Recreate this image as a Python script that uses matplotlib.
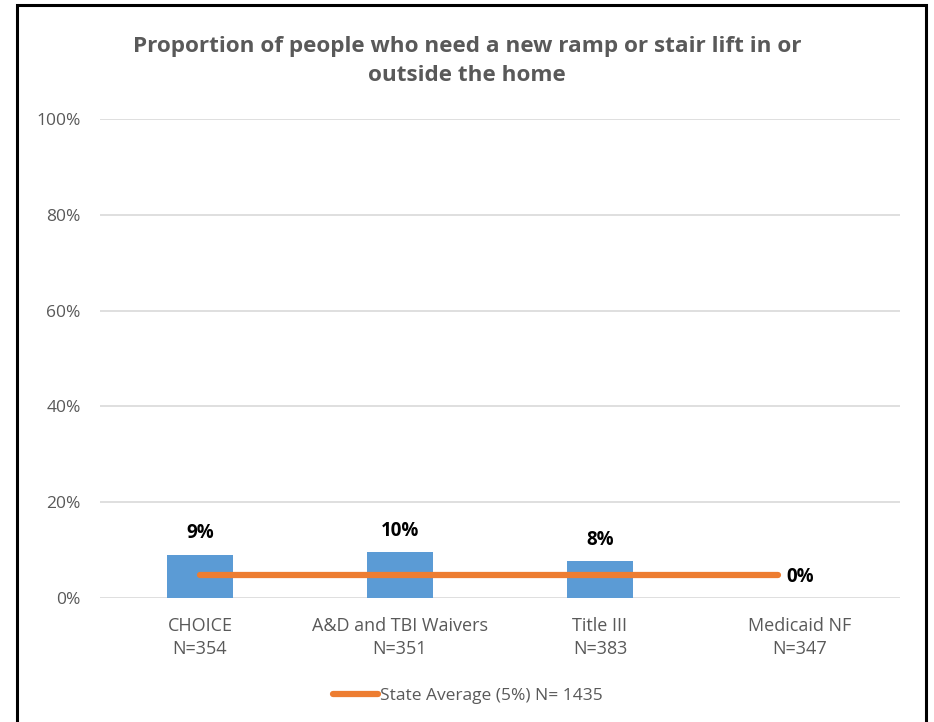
import matplotlib
matplotlib.use("Agg")
import matplotlib.pyplot as plt
from matplotlib.lines import Line2D
from matplotlib.patches import Rectangle
import numpy as np

# datos
categorias = ["CHOICE\nN=354", "A&D and TBI Waivers\nN=351", "Title III\nN=383", "Medicaid NF\nN=347"]
valores = [0.09, 0.096, 0.077, 0.0]
etiquetas = ["9%", "10%", "8%", "0%"]
promedio_estado = 0.047
texto_leyenda = "State Average (5%) N= 1435"
titulo = "Proportion of people who need a new ramp or stair lift in or\noutside the home"

plt.rcParams['font.family'] = ['Open Sans', 'DejaVu Sans']
gris = "#595959"

fig = plt.figure(figsize=(9.34, 7.22), dpi=100)
ax = fig.add_axes([100/934, 1 - 598/722, 800/934, 479/722])

x = np.arange(len(categorias))
ax.bar(x, valores, width=0.33, color="#5B9BD5", zorder=2)
ax.plot([x[0], x[-1] - 0.11], [promedio_estado, promedio_estado], color="#ED7D31",
        linewidth=4.5, solid_capstyle="round", zorder=3)

for xi, v, t in zip(x, valores, etiquetas):
    ax.text(xi, v + 0.024, t, ha="center", va="bottom",
            fontsize=13.5, fontweight="bold", color="black", zorder=4)

ax.set_xlim(-0.5, 3.5)
ax.set_ylim(0, 1)
ax.set_yticks(np.arange(0, 1.01, 0.2))
ax.set_yticklabels([f"{int(round(t*100))}%" for t in np.arange(0, 1.01, 0.2)])
ax.set_xticks(x)
ax.set_xticklabels(categorias, linespacing=1.3)
ax.tick_params(axis="both", length=0, labelcolor=gris)
ax.tick_params(axis="x", pad=14, labelsize=13)
ax.tick_params(axis="y", pad=14, labelsize=12.5)
ax.yaxis.grid(True, color="#D9D9D9", linewidth=1.2, zorder=0)
ax.set_axisbelow(True)
for s in ax.spines.values():
    s.set_visible(False)

fig.text(0.5, 1 - 61/722, titulo, ha="center", va="center", fontsize=16.2,
         fontweight="bold", color=gris, linespacing=1.55)

handle = Line2D([], [], color="#ED7D31", linewidth=4.5, solid_capstyle="round")
fig.legend([handle], [texto_leyenda], loc="center", bbox_to_anchor=(468/934, 1 - 696/722),
           frameon=False, fontsize=12.5, labelcolor=gris, handlelength=2.6, handletextpad=0.1)

# marco
fig.add_artist(Rectangle((17/934, -0.01), (926 - 17)/934, 1 - 5/722 + 0.01,
                         transform=fig.transFigure, fill=False, edgecolor="black", linewidth=2.2))

fig.savefig("out.png", dpi=100)
